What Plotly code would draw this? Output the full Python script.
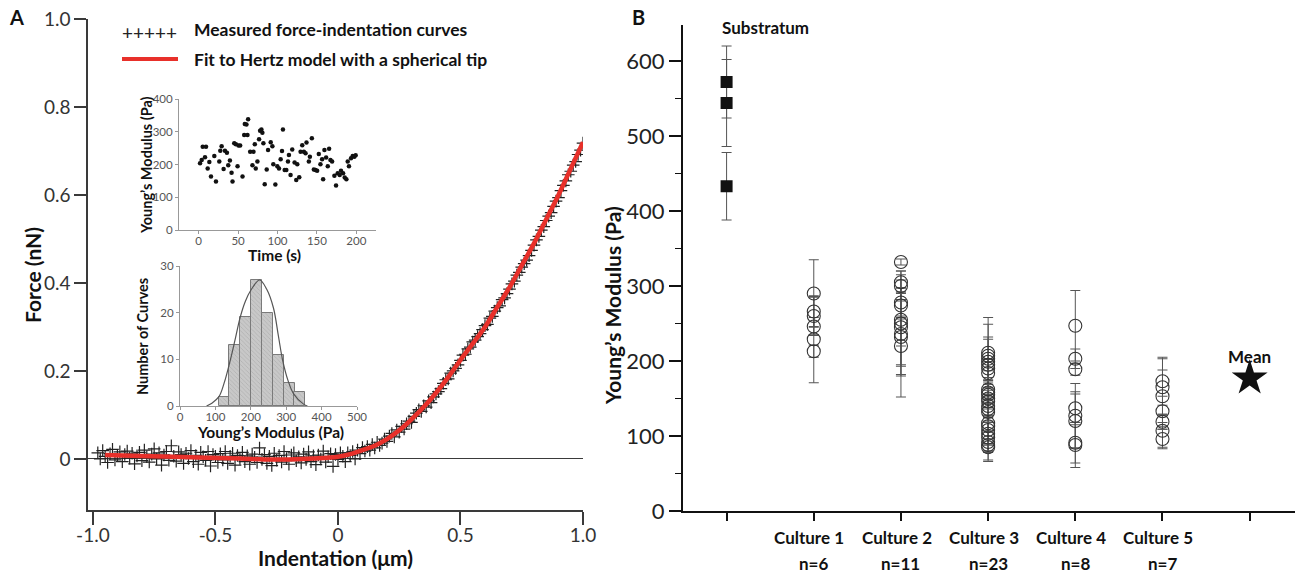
import plotly.graph_objects as go

W, H = 1295, 573
FONT = "Lato, 'Open Sans', sans-serif"


def px(x):
    return x / W


def py(y):
    return 1 - y / H


# ---------------- Panel A: force-indentation curve ----------------
measured_x = [
    -0.98, -0.97, -0.96, -0.95, -0.94, -0.93, -0.92, -0.91, -0.90, -0.89,
    -0.88, -0.87, -0.86, -0.85, -0.84, -0.83, -0.82, -0.81, -0.80, -0.79,
    -0.78, -0.77, -0.76, -0.75, -0.74, -0.73, -0.72, -0.71, -0.70, -0.69,
    -0.68, -0.67, -0.66, -0.65, -0.64, -0.63, -0.62, -0.61, -0.60, -0.59,
    -0.58, -0.57, -0.56, -0.55, -0.54, -0.53, -0.52, -0.51, -0.50, -0.49,
    -0.48, -0.47, -0.46, -0.45, -0.44, -0.43, -0.42, -0.41, -0.40, -0.39,
    -0.38, -0.37, -0.36, -0.35, -0.34, -0.33, -0.32, -0.31, -0.30, -0.29,
    -0.28, -0.27, -0.26, -0.25, -0.24, -0.23, -0.22, -0.21, -0.20, -0.19,
    -0.18, -0.17, -0.16, -0.15, -0.14, -0.13, -0.12, -0.11, -0.10, -0.09,
    -0.08, -0.07, -0.06, -0.05, -0.04, -0.03, -0.02, -0.01, 0.00, 0.01,
    0.02, 0.03, 0.04, 0.05, 0.06, 0.07, 0.08, 0.09, 0.10, 0.11,
    0.12, 0.13, 0.14, 0.15, 0.16, 0.17, 0.18, 0.19, 0.20, 0.21,
    0.22, 0.23, 0.24, 0.25, 0.26, 0.27, 0.28, 0.29, 0.30, 0.31,
    0.32, 0.33, 0.34, 0.35, 0.36, 0.37, 0.38, 0.39, 0.40, 0.41,
    0.42, 0.43, 0.44, 0.45, 0.46, 0.47, 0.48, 0.49, 0.50, 0.51,
    0.52, 0.53, 0.54, 0.55, 0.56, 0.57, 0.58, 0.59, 0.60, 0.61,
    0.62, 0.63, 0.64, 0.65, 0.66, 0.67, 0.68, 0.69, 0.70, 0.71,
    0.72, 0.73, 0.74, 0.75, 0.76, 0.77, 0.78, 0.79, 0.80, 0.81,
    0.82, 0.83, 0.84, 0.85, 0.86, 0.87, 0.88, 0.89, 0.90, 0.91,
    0.92, 0.93, 0.94, 0.95, 0.96, 0.97, 0.98, 0.99, 1.00,
]
measured_y = [
    0.014, 0.000, 0.019, 0.006, -0.008, 0.012, 0.022, -0.002, 0.008, 0.016,
    -0.006, 0.010, 0.018, 0.002, 0.013, -0.011, 0.007, 0.015, -0.004, 0.020,
    0.005, -0.007, 0.011, 0.023, 0.000, 0.014, -0.014, 0.009, 0.017, -0.003,
    0.030, 0.006, -0.005, 0.016, 0.010, -0.010, 0.013, 0.001, 0.019, -0.006,
    0.008, -0.012, 0.015, 0.005, -0.003, 0.017, -0.016, 0.010, 0.006, -0.008,
    0.012, -0.002, 0.017, -0.010, 0.006, 0.013, -0.014, 0.008, 0.001, 0.015,
    -0.006, 0.007, -0.012, 0.011, 0.004, -0.008, 0.025, -0.001, 0.010, -0.010,
    0.006, -0.015, 0.013, -0.003, 0.008, -0.007, 0.017, 0.001, -0.012, 0.009,
    0.014, -0.004, 0.005, -0.009, 0.011, -0.001, 0.016, -0.006, 0.007, -0.013,
    0.009, 0.000, 0.018, -0.007, 0.005, 0.012, -0.017, 0.010, -0.001, 0.014,
    0.006, -0.006, 0.014, 0.008, 0.017, 0.000, 0.020, 0.012, 0.026, 0.018,
    0.028, 0.020, 0.033, 0.025, 0.038, 0.031, 0.036, 0.045, 0.040, 0.052,
    0.058, 0.050, 0.066, 0.061, 0.074, 0.068, 0.080, 0.086, 0.083, 0.097,
    0.104, 0.112, 0.108, 0.121, 0.118, 0.132, 0.128, 0.141, 0.148, 0.153,
    0.160, 0.172, 0.180, 0.182, 0.195, 0.200, 0.206, 0.214, 0.224, 0.236,
    0.238, 0.250, 0.254, 0.266, 0.270, 0.278, 0.285, 0.294, 0.303, 0.306,
    0.320, 0.324, 0.336, 0.344, 0.348, 0.362, 0.366, 0.376, 0.386, 0.398,
    0.404, 0.418, 0.424, 0.436, 0.444, 0.452, 0.462, 0.474, 0.486, 0.498,
    0.506, 0.520, 0.528, 0.542, 0.552, 0.560, 0.574, 0.586, 0.594, 0.610,
    0.622, 0.632, 0.646, 0.654, 0.668, 0.676, 0.692, 0.702, 0.718,
]
fit_x = [-0.95, -0.8, -0.6, -0.4, -0.3, -0.2, -0.1, 0.0, 0.05, 0.1, 0.15, 0.2,
         0.25, 0.3, 0.35, 0.4, 0.45, 0.5, 0.55, 0.6, 0.65, 0.7, 0.75, 0.8,
         0.85, 0.9, 0.95, 1.0]
fit_y = [0.009, 0.007, 0.004, 0.001, -0.001, -0.001, 0.001, 0.005, 0.011, 0.02,
         0.03, 0.045, 0.065, 0.09, 0.118, 0.15, 0.186, 0.225, 0.262, 0.30,
         0.345, 0.39, 0.44, 0.49, 0.545, 0.60, 0.66, 0.72]

# Inset 1: Young's modulus vs time
time_s = [1.7, 3.8, 5.1, 8.0, 9.3, 11.4, 13.5, 15.6, 19.8, 21.9, 26.1, 27.4,
          29.1, 31.6, 33.3, 35.8, 37.5, 39.6, 41.7, 42.9, 45.1, 47.2, 49.3,
          50.5, 52.6, 55.6, 57.7, 58.5, 60.6, 61.9, 62.7, 65.3, 68.2, 69.5,
          71.2, 72.4, 74.5, 76.6, 77.9, 79.6, 80.8, 82.1, 83.8, 86.3, 88.0,
          91.4, 93.5, 94.7, 97.3, 99.8, 101.9, 104.0, 105.7, 106.9, 109.1,
          111.2, 113.3, 114.5, 116.6, 118.7, 121.7, 123.8, 125.1, 127.6,
          129.3, 131.4, 133.5, 135.6, 136.8, 139.8, 141.1, 143.6, 146.1,
          148.2, 150.3, 152.4, 154.5, 156.6, 157.9, 159.6, 161.7, 163.8,
          165.5, 167.2, 169.3, 172.2, 174.3, 176.4, 178.9, 180.6, 183.2,
          185.3, 187.4, 189.1, 190.7, 193.3, 195.4, 197.5, 199.2]
modulus_t = [204, 214, 254, 222, 254, 188, 208, 163, 226, 148, 209, 242,
             256, 186, 242, 236, 198, 212, 175, 148, 265, 262, 195,
             258, 258, 163, 290, 324, 322, 290, 338, 239, 198, 239,
             262, 188, 209, 277, 303, 307, 297, 265, 140, 185, 244,
             268, 256, 201, 139, 195, 188, 216, 241, 307, 183,
             183, 209, 229, 168, 246, 206, 153, 201, 161,
             239, 259, 239, 234, 267, 209, 224, 280, 185,
             183, 181, 232, 201, 216, 155, 244, 221, 195,
             248, 214, 209, 166, 136, 173, 168, 181, 173,
             160, 155, 209, 195, 219, 226, 224, 228]

# Inset 2: histogram of Young's modulus
hist_centers = [125, 155, 185, 216, 248, 278, 308, 338]
hist_counts = [2, 13, 19, 27, 20, 11, 5, 3]
gauss_x = [75, 90, 110, 125, 142, 155, 170, 185, 200, 225, 245, 264, 278, 290,
           305, 321, 349, 360]
gauss_y = [0, 0.6, 2, 5, 9.8, 14, 19, 22.5, 24.8, 27, 25, 21, 15, 9.8, 5.5,
           2.6, 0.4, 0]

# ---------------- Panel B: Young's modulus per culture ----------------
categories = ["Substratum", "Culture 1", "Culture 2", "Culture 3", "Culture 4",
              "Culture 5", "Mean"]
n_labels = ["", "n=6", "n=11", "n=23", "n=8", "n=7", ""]
sub_vals = [572, 544, 433]
sub_err = [48, 58, 45]
c1_vals = [290, 266, 260, 246, 229, 213]
c1_err = [45, 20, 25, 12, 58, 8]
c2_vals = [332, 305, 300, 278, 274, 255, 250, 245, 236, 232, 220]
c2_err = [4, 15, 8, 20, 18, 60, 30, 52, 84, 50, 40]
c3_vals = [211, 207, 203, 199, 195, 190, 184, 162, 158, 155, 150, 146, 140,
           136, 132, 117, 113, 108, 103, 98, 92, 88, 85]
c3_err = [47, 42, 29, 30, 8, 12, 15, 10, 20, 6, 25, 10, 15, 8, 12, 10, 25,
          40, 15, 20, 26, 8, 5]
c4_vals = [247, 203, 189, 137, 127, 120, 91, 88]
c4_err = [47, 13, 8, 22, 43, 36, 27, 30]
c5_vals = [173, 165, 153, 133, 119, 107, 96]
c5_err = [32, 38, 35, 20, 10, 22, 13]
mean_val = [177]

fig = go.Figure()

# Panel A traces
fig.add_trace(go.Scatter(
    x=measured_x, y=measured_y, mode="markers", xaxis="x", yaxis="y",
    marker=dict(symbol="cross-thin", size=9, line=dict(color="#222", width=1.2)),
    showlegend=False, hoverinfo="skip"))
fig.add_trace(go.Scatter(
    x=fit_x, y=fit_y, mode="lines", xaxis="x", yaxis="y",
    line=dict(color="#e8302a", width=4.5, shape="spline"), showlegend=False))

fig.add_trace(go.Scatter(
    x=time_s, y=modulus_t, mode="markers", xaxis="x2", yaxis="y2",
    marker=dict(color="#111", size=4.5), showlegend=False))

fig.add_trace(go.Bar(
    x=hist_centers, y=hist_counts, width=31, xaxis="x3", yaxis="y3",
    marker=dict(color="#c4c4c4", line=dict(color="#7a7a7a", width=1),
                pattern=dict(shape="\\", fgcolor="#9a9a9a", bgcolor="#c8c8c8",
                             size=3, solidity=0.25, fillmode="overlay")),
    showlegend=False))
fig.add_trace(go.Scatter(
    x=gauss_x, y=gauss_y, mode="lines", xaxis="x3", yaxis="y3",
    line=dict(color="#555", width=1.2, shape="spline"), showlegend=False))

# Panel B traces
err_style = dict(type="data", symmetric=True, color="#555", thickness=1, width=5)
fig.add_trace(go.Scatter(
    x=[0] * len(sub_vals), y=sub_vals, mode="markers", xaxis="x4", yaxis="y4",
    error_y=dict(array=sub_err, **err_style),
    marker=dict(symbol="square", size=12, color="#111"), showlegend=False))
for i, (vals, errs) in enumerate([(c1_vals, c1_err), (c2_vals, c2_err),
                                  (c3_vals, c3_err), (c4_vals, c4_err),
                                  (c5_vals, c5_err)], start=1):
    fig.add_trace(go.Scatter(
        x=[i] * len(vals), y=vals, mode="markers", xaxis="x4", yaxis="y4",
        error_y=dict(array=errs, **err_style),
        marker=dict(symbol="circle-open", size=13, color="#333",
                    line=dict(width=1.1, color="#333")),
        showlegend=False))
fig.add_trace(go.Scatter(
    x=[6], y=mean_val, mode="markers", xaxis="x4", yaxis="y4",
    marker=dict(symbol="star", size=27, color="#111"), showlegend=False))

axis_a = dict(showgrid=False, showline=True, linecolor="#3a3a3a", linewidth=1.5,
              ticks="outside", tickcolor="#3a3a3a", tickwidth=1.5,
              tickfont=dict(size=19, color="#333"), automargin=False)
inset_ax = dict(showgrid=False, showline=True, linecolor="#999", linewidth=1,
                ticks="outside", tickcolor="#999", ticklen=3,
                tickfont=dict(size=11.5, color="#555"), zeroline=False,
                automargin=False)

fig.update_layout(
    width=W, height=H, margin=dict(l=0, r=0, t=0, b=0, autoexpand=False),
    paper_bgcolor="white", plot_bgcolor="rgba(0,0,0,0)",
    font=dict(family=FONT, color="#222"),
    xaxis=dict(domain=[px(88), px(583)], range=[-1.02, 1.0], anchor="y",
               tickvals=[-1, -0.5, 0, 0.5, 1.0],
               ticktext=["-1.0", "-0.5", "0", "0.5", "1.0"], ticklen=13,
               ticklabelstandoff=-6, zeroline=False, **axis_a),
    yaxis=dict(domain=[py(510), py(19)], range=[-0.116, 1.0], anchor="x",
               tickvals=[0, 0.2, 0.4, 0.6, 0.8, 1.0],
               ticktext=["0", "0.2", "0.4", "0.6", "0.8", "1.0"], ticklen=12,
               zeroline=True, zerolinecolor="#3a3a3a", zerolinewidth=1.2,
               **axis_a),
    xaxis2=dict(domain=[px(179), px(376)], range=[-25, 225], anchor="y2",
                tickvals=[0, 50, 100, 150, 200], ticklabelstandoff=-3,
                **inset_ax),
    yaxis2=dict(domain=[py(230), py(99)], range=[0, 400], anchor="x2",
                tickvals=[0, 100, 200, 300, 400], **inset_ax),
    xaxis3=dict(domain=[px(180), px(357)], range=[0, 500], anchor="y3",
                tickvals=[0, 100, 200, 300, 400, 500], ticklabelstandoff=-3,
                **inset_ax),
    yaxis3=dict(domain=[py(406), py(266)], range=[0, 30], anchor="x3",
                tickvals=[0, 10, 20, 30], **inset_ax),
    xaxis4=dict(domain=[px(683), 1.0], range=[-0.5, 6.52], anchor="y4",
                tickvals=list(range(len(categories))), ticktext=[""] * len(categories),
                showgrid=False, showline=True, linecolor="#111", linewidth=2,
                ticks="outside", ticklen=8, tickwidth=1.5, tickcolor="#111",
                zeroline=False, automargin=False),
    yaxis4=dict(domain=[py(511), py(25)], range=[0, 648], anchor="x4",
                tickvals=[0, 100, 200, 300, 400, 500, 600],
                showgrid=False, showline=True, linecolor="#111", linewidth=2,
                ticks="outside", ticklen=12, tickwidth=1.5, tickcolor="#111",
                tickfont=dict(size=22, color="#222"), zeroline=False,
                automargin=False,
                minor=dict(tickvals=[50, 150, 250, 350, 450, 550], ticks="outside",
                           ticklen=6, tickwidth=1.2, tickcolor="#111")),
    bargap=0,
)

ann = []


def add_text(text, x, y, size, bold=True, angle=0, color="#111", xanchor="center",
             xref="paper"):
    ann.append(dict(text=f"<b>{text}</b>" if bold else text, x=x, y=y,
                    xref=xref, yref="paper", showarrow=False, textangle=angle,
                    xanchor=xanchor, yanchor="middle",
                    font=dict(size=size, color=color, family=FONT)))


add_text("A", px(16), py(17), 20)
add_text("B", px(638), py(17), 20)
add_text("Force (nN)", px(32), py(275), 21, angle=-90)
add_text("Indentation (μm)", px(335), py(557), 21)
add_text("+++++", px(120), py(32), 19, bold=False, xanchor="left", color="#222")
add_text("Measured force-indentation curves", px(192), py(30), 17.5, xanchor="left")
add_text("Fit to Hertz model with a spherical tip", px(192), py(59), 17.5,
         xanchor="left")
add_text("Young’s Modulus (Pa)", px(146), py(165), 14.5, angle=-90)
add_text("Time (s)", px(274), py(255), 15.5)
add_text("Number of Curves", px(142), py(337), 14.5, angle=-90)
add_text("Young’s Modulus (Pa)", px(270), py(432), 15.5)
add_text("Young’s Modulus (Pa)", px(612), py(306), 21, angle=-90)
add_text("Substratum", px(765), py(28), 17)
add_text("Mean", 6, py(356), 17, xref="x4")
for i, (c, n) in enumerate(zip(categories, n_labels)):
    if n:
        add_text(c, i - 0.05, py(537), 17, xref="x4")
        add_text(n, i, py(563), 17, xref="x4")

fig.update_layout(annotations=ann)
fig.add_shape(type="line", xref="paper", yref="paper", x0=px(122), x1=px(178),
              y0=py(59), y1=py(59), line=dict(color="#e8302a", width=4))

fig.write_html(
    "out.html",
    config={"displayModeBar": False},
    post_script="document.body.style.margin='0';"
                "document.body.style.overflow='hidden';",
)
